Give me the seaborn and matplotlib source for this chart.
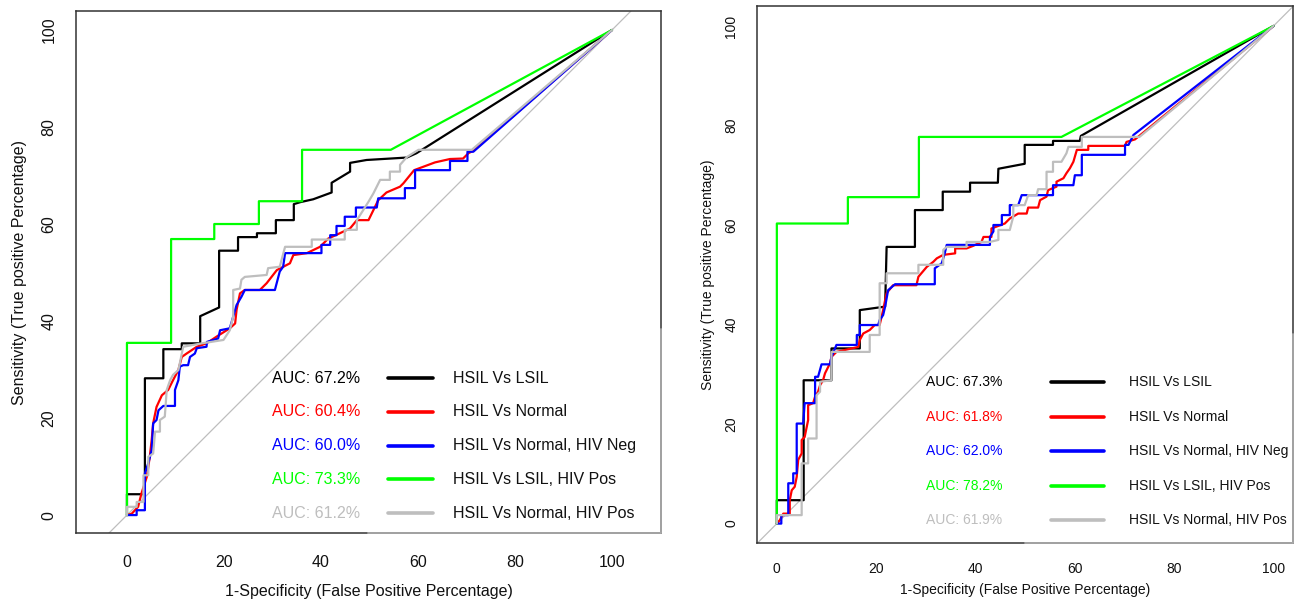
import pandas as pd
import seaborn as sns
import matplotlib.pyplot as plt

# ---- data: ROC curves, 1-specificity (%) vs sensitivity (%) ----
curve_names = ['HSIL Vs LSIL', 'HSIL Vs Normal', 'HSIL Vs Normal, HIV Neg',
               'HSIL Vs LSIL, HIV Pos', 'HSIL Vs Normal, HIV Pos']
curve_colors = ['#000000', '#ff0000', '#0000ff', '#00ff00', '#bebebe']

left_auc = ['67.2%', '60.4%', '60.0%', '73.3%', '61.2%']
right_auc = ['67.3%', '61.8%', '62.0%', '78.2%', '61.9%']

# left panel
l_lsil_fpr = [0, 0, 3.7, 3.7, 7.5, 7.5, 11.3, 11.3, 15.1, 15.1, 19, 19, 22.9, 22.9, 26.8, 26.8,
              30.7, 30.7, 34.4, 34.4, 35.7, 38.4, 42.2, 42.2, 46, 46, 49.4, 57.7, 59.7, 100]
l_lsil_tpr = [0, 4.3, 4.3, 28.2, 28.2, 34.2, 34.2, 35.4, 35.4, 41, 42.8, 54.5, 54.5, 57.3, 57.3, 58.1,
              58.1, 60.8, 60.8, 64.1, 64.5, 65.1, 66.5, 68.5, 70.8, 72.6, 73.2, 73.7, 74.6, 100]

l_norm_fpr = [0, 1, 2.3, 3, 4.1, 4.7, 5.1, 5.4, 6.1, 7.2, 8.5, 9.5, 10.6, 11.3, 12.3, 14.4, 16.4,
              18.5, 21.2, 22.3, 22.6, 23.3, 24.3, 27.4, 28.8, 30.9, 33.6, 34.3, 37.1, 39.8, 41.5,
              43.9, 46, 47.4, 49.8, 51.8, 53.5, 56.3, 57, 59.2, 63.5, 66.6, 69.3, 70.4, 71.4, 100]
l_norm_tpr = [0, 0.3, 1.7, 4.5, 7.9, 12, 15.5, 18.9, 22.3, 24.7, 25.8, 27.8, 29.9, 32.6, 33.3, 34.7,
              35.4, 36.8, 38.5, 39.5, 42.3, 45.7, 46.4, 46.4, 47.8, 50.5, 51.9, 53.6, 54, 55.3, 57,
              58.1, 59.1, 60.8, 60.8, 64.9, 66.5, 67.7, 68.4, 71.1, 72.7, 73.4, 73.5, 74.6, 75.1, 100]

l_neg_fpr = [0, 2, 2, 3.7, 3.7, 4.4, 5.1, 5.4, 6.1, 6.5, 7.5, 9.9, 9.9, 10.6, 10.9, 11.6, 12.6,
             13, 14, 14.4, 16.4, 16.5, 18.8, 19.2, 21.2, 22.6, 23.6, 24.3, 30.5, 31.5, 32.2, 32.6,
             40.1, 40.1, 41.9, 41.9, 43.2, 43.2, 44.9, 44.9, 47.2, 47.2, 51.5, 51.8, 57.3, 57.3,
             59.4, 59.4, 66.6, 66.6, 70.2, 70.2, 71.4, 100]
l_neg_tpr = [0, 0, 1, 1, 8.6, 10.7, 13.4, 18.9, 19.6, 21.6, 22.5, 22.5, 25.8, 27.8, 30.6, 30.9, 30.9,
             32.6, 33.3, 34.4, 34.7, 35.7, 36.4, 38.1, 38.5, 43.3, 45, 46.4, 46.4, 50.2, 51.2, 54,
             54, 55.7, 55.7, 57.7, 57.7, 59.6, 59.6, 61.5, 61.5, 63.4, 63.4, 65.3, 65.3, 67.4,
             67.4, 71.1, 71.1, 73, 73, 74.9, 74.9, 100]

l_pos_lsil_fpr = [0, 0, 9.1, 9.1, 18, 18, 27.2, 27.2, 36.1, 36.1, 54.4, 100]
l_pos_lsil_tpr = [0, 35.5, 35.5, 56.9, 56.9, 60, 60, 64.7, 64.7, 75.3, 75.3, 100]

l_pos_norm_fpr = [0, 0, 2, 2, 3.4, 3.4, 4.4, 4.4, 5.4, 5.8, 6.8, 6.8, 7.8, 8.2, 8.9, 9.5, 10.6,
                  10.9, 11.6, 15.4, 19.9, 21.2, 21.9, 21.9, 23.3, 23.6, 24.3, 28.8, 29.1, 31.5,
                  32.6, 38.1, 38.1, 44.9, 44.9, 47.4, 47.4, 49.8, 50.8, 52.2, 54.2, 54.2, 56.3,
                  56.3, 57.7, 60.1, 71.1, 100]
l_pos_norm_tpr = [0, 1.7, 1.7, 2.7, 2.7, 8.2, 8.2, 12, 12.7, 17.2, 17.2, 19.6, 20.3, 25.8, 27.8,
                  28.9, 29.9, 31.3, 34.7, 35.4, 36.1, 38.1, 40.9, 46.4, 46.7, 48.5, 49.1, 49.5,
                  50.9, 51.2, 55.3, 55.3, 56.8, 56.8, 58.8, 58.8, 60.8, 64.6, 66.3, 69.1, 69.1,
                  70.8, 70.8, 72.2, 73.8, 75.3, 75.3, 100]

# right panel
r_lsil_fpr = [0, 0, 5.4, 5.4, 11, 11, 16.7, 16.7, 21.8, 22.1, 27.8, 27.8, 33.4, 33.4, 38.9, 38.9,
              44.5, 44.6, 49.9, 49.9, 55.6, 55.6, 61, 61.2, 100]
r_lsil_tpr = [0, 4.7, 4.7, 28.8, 28.8, 35.2, 35.2, 42.9, 43.6, 55.6, 55.6, 63, 63, 66.7, 66.7, 68.5,
              68.5, 71.3, 72.3, 76.1, 76.1, 76.9, 76.9, 77.9, 100]

r_norm_fpr = [0, 0.6, 1.3, 2.6, 2.6, 3, 3.6, 4, 4.3, 5, 5, 5.6, 6.3, 6.3, 7.3, 7.7, 8.3, 8.7, 9.3,
              9.7, 10.7, 11, 12, 16.4, 16.7, 17.4, 18.7, 19.7, 20.7, 21.4, 21.8, 22.1, 23.4, 28.1,
              28.5, 30.2, 31.5, 32.2, 33.5, 35.9, 35.9, 38.2, 39.5, 41.2, 41.6, 43.2, 43.2, 45.9,
              46.9, 48.6, 50.3, 50.6, 52.6, 53, 54.3, 54.6, 56.3, 56.3, 57.7, 58.3, 59, 59.7, 60.4,
              62.7, 62.7, 70.1, 70.4, 72.1, 100]
r_norm_tpr = [0, 0.7, 2, 2, 4.7, 6.7, 7.4, 9.4, 12.8, 14.1, 16.8, 17.4, 20.8, 23.8, 24.2, 25.5, 26.5,
              27.8, 28.8, 30.2, 32.2, 33.5, 34.5, 35.5, 36.9, 38.2, 38.9, 39.9, 39.9, 42.9, 44.9,
              46.3, 47.9, 47.9, 49.6, 51.6, 52.6, 53.3, 54, 54.3, 55.3, 55.3, 55.8, 56.6, 57.6,
              57.6, 59.3, 60.3, 61.3, 62.3, 62.3, 63.5, 63.5, 65, 65.7, 67, 67.7, 68.7, 69.4, 70.4,
              71.4, 72.7, 75.1, 75.1, 75.9, 75.9, 76.7, 77.2, 100]

r_neg_fpr = [0, 0.9, 0.9, 2.3, 2.3, 3.3, 3.3, 4, 4, 5.3, 5.6, 7.7, 7.7, 8.3, 9, 10.7, 11, 12, 16.1,
             16.1, 16.7, 16.7, 20.4, 20.7, 21.4, 21.8, 22.4, 23.8, 31.8, 31.8, 33.2, 33.8, 34.2,
             42.9, 42.9, 43.6, 43.6, 45.3, 45.3, 46.9, 46.9, 48.6, 49.3, 55.6, 55.6, 59.7, 60,
             61.4, 61.4, 70.1, 70.1, 70.8, 71.8, 100]
r_neg_tpr = [0, 0, 1.7, 1.7, 8.1, 8.1, 10.1, 10.1, 20.1, 20.1, 24.2, 24.2, 29.5, 29.5, 32, 32, 33.5,
             35.9, 35.9, 37.9, 37.9, 39.9, 39.9, 40.9, 41.9, 43.6, 46.9, 48.1, 48.1, 51.3, 52.3,
             54.3, 56, 56, 57.6, 58.7, 60, 60, 62, 62, 64, 64, 66, 66, 68, 68, 70, 70, 74.1, 74.1,
             76.1, 76.1, 78.1, 100]

r_pos_lsil_fpr = [0, 0, 14.3, 14.3, 28.6, 28.6, 57.3, 100]
r_pos_lsil_tpr = [0, 60.3, 60.3, 65.6, 65.6, 77.7, 77.7, 100]

r_pos_norm_fpr = [0, 0, 5, 5, 6.3, 6.3, 8, 8, 8.7, 8.7, 11, 11, 18.7, 18.7, 20.7, 20.7, 22.1, 22.1,
                  28.5, 28.5, 33.5, 33.5, 34.2, 38.2, 38.2, 42.9, 44.6, 44.6, 46.9, 47.6, 47.6,
                  49.9, 50.6, 52.3, 52.6, 54.3, 54.3, 55.6, 55.6, 57.3, 58.3, 58.7, 61.4, 61.4, 73,
                  100]
r_pos_norm_tpr = [0, 1.7, 1.7, 12.1, 12.1, 17.1, 17.1, 25.8, 26.5, 28.5, 28.8, 34.5, 34.5, 37.9,
                  37.9, 48.3, 48.3, 50.3, 50.3, 52, 52, 55, 55.6, 55.6, 56.6, 56.6, 57, 59, 59,
                  61.7, 64, 64, 66, 66, 67.2, 67.2, 70.7, 70.7, 72.7, 72.7, 74.4, 75.7, 75.7, 77.7,
                  77.7, 100]

ticks = [0, 20, 40, 60, 80, 100]
tick_labels = ['0', '20', '40', '60', '80', '100']


def long_frame(fprs, tprs):
    parts = []
    for name, f, t in zip(curve_names, fprs, tprs):
        parts.append(pd.DataFrame({'fpr': f, 'tpr': t, 'curve': name}))
    return pd.concat(parts, ignore_index=True)


left_df = long_frame([l_lsil_fpr, l_norm_fpr, l_neg_fpr, l_pos_lsil_fpr, l_pos_norm_fpr],
                     [l_lsil_tpr, l_norm_tpr, l_neg_tpr, l_pos_lsil_tpr, l_pos_norm_tpr])
right_df = long_frame([r_lsil_fpr, r_norm_fpr, r_neg_fpr, r_pos_lsil_fpr, r_pos_norm_fpr],
                      [r_lsil_tpr, r_norm_tpr, r_neg_tpr, r_pos_lsil_tpr, r_pos_norm_tpr])

sns.set_style('white')
plt.rcParams['font.family'] = ['Liberation Sans', 'DejaVu Sans']

fig = plt.figure(figsize=(13.04, 6.04), dpi=100)
ax1 = fig.add_axes([0.0583, 0.1175, 0.4486, 0.8642])
ax2 = fig.add_axes([0.5805, 0.1010, 0.4110, 0.8890])

panels = [
    dict(ax=ax1, df=left_df, auc=left_auc, xlim=(-10.5, 110.1), ylim=(-3.7, 103.9), fs=11.5,
         auc_x=0.335, h0=0.533, h1=0.610, lab_x=0.644, rows=[0.297, 0.232, 0.167, 0.103, 0.038],
         frame_x=0.499, frame_y=0.39, ylab=(-0.084, 0.5), xlab=(0.5, -0.098), ypad=8, xpad=9.5),
    dict(ax=ax2, df=right_df, auc=right_auc, xlim=(-4.0, 103.9), ylim=(-3.9, 104.0), fs=10,
         auc_x=0.315, h0=0.549, h1=0.647, lab_x=0.694, rows=[0.300, 0.235, 0.171, 0.106, 0.043],
         frame_x=0.500, frame_y=0.39, ylab=(-0.078, 0.5), xlab=(0.5, -0.0745), ypad=7.5, xpad=8),
]

for p in panels:
    ax = p['ax']
    # chance line
    ax.axline((0, 0), slope=1, color='#bebebe', lw=0.9, zorder=1)
    sns.lineplot(data=p['df'], x='fpr', y='tpr', hue='curve', hue_order=curve_names,
                 palette=curve_colors, sort=False, estimator=None, lw=1.6,
                 legend=False, ax=ax, zorder=2)
    ax.set_xlim(*p['xlim'])
    ax.set_ylim(*p['ylim'])
    ax.set_xticks(ticks, labels=tick_labels)
    ax.set_yticks(ticks, labels=tick_labels, rotation=90, va='center')
    ax.tick_params(axis='both', direction='out', length=6, width=0.9, color='#333333',
                   labelsize=p['fs'], labelcolor='#111111')
    ax.tick_params(axis='y', pad=p['ypad'])
    ax.tick_params(axis='x', pad=p['xpad'])
    for s in ax.spines.values():
        s.set_color('#333333')
        s.set_linewidth(1.1)
    ax.set_xlabel('1-Specificity (False Positive Percentage)', fontsize=p['fs'], color='#111111')
    ax.set_ylabel('Sensitivity (True positive Percentage)', fontsize=p['fs'], color='#111111')
    ax.xaxis.set_label_coords(*p['xlab'])
    ax.yaxis.set_label_coords(*p['ylab'])

    # legend frame edge (lighter border where the legend box sits)
    ax.plot([p['frame_x'], 1], [0, 0], color='#aaaaaa', lw=1.3, transform=ax.transAxes,
            clip_on=False, zorder=5)
    ax.plot([1, 1], [0, p['frame_y']], color='#aaaaaa', lw=1.3, transform=ax.transAxes,
            clip_on=False, zorder=5)

    # legend: AUC text, line sample, label
    for name, col, auc, y in zip(curve_names, curve_colors, p['auc'], p['rows']):
        ax.text(p['auc_x'], y, 'AUC: ' + auc, color=col, fontsize=p['fs'],
                ha='left', va='center', transform=ax.transAxes)
        ax.plot([p['h0'], p['h1']], [y, y], color=col, lw=2.6, solid_capstyle='round',
                transform=ax.transAxes)
        ax.text(p['lab_x'], y, name, color='#111111', fontsize=p['fs'],
                ha='left', va='center', transform=ax.transAxes)

fig.savefig('out.png', dpi=100)
